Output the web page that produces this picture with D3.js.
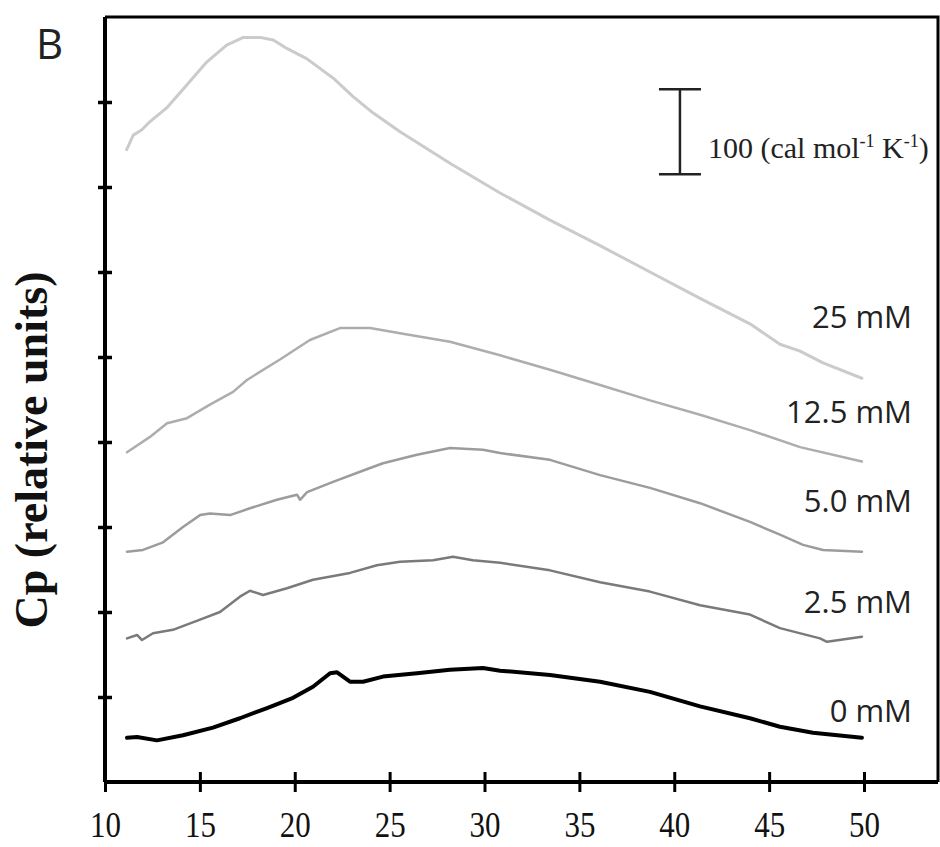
<!DOCTYPE html>
<html>
<head>
<meta charset="utf-8">
<script src="https://cdn.jsdelivr.net/npm/d3@7"></script>
<style>
  html, body { margin: 0; padding: 0; background: #fff; }
  svg { display: block; }
</style>
</head>
<body>
<div id="chart"></div>
<script>
// temperature (°C) vs Cp (cal mol-1 K-1, curves offset)
const t0 = [11.16, 11.69, 12.74, 14.11, 15.69, 17.11, 18.54, 19.91, 20.96, 21.86, 22.23, 22.91, 23.60, 24.65, 26.44, 28.18, 29.92, 30.82, 33.45, 36.09, 38.72, 41.36, 43.99, 45.57, 47.31, 49.89];
const cp0 = [52, 53, 49, 55, 64, 75, 87, 99, 112, 128, 129, 118, 118, 124, 128, 132, 134, 131, 126, 118, 106, 89, 75, 65, 58, 52];

const t2 = [11.16, 11.69, 11.95, 12.53, 13.58, 15.01, 16.06, 17.11, 17.64, 18.33, 19.59, 20.96, 22.91, 24.33, 25.55, 27.29, 28.34, 29.39, 30.82, 33.45, 36.09, 38.72, 41.36, 43.99, 45.57, 47.68, 48.05, 49.89];
const cp2 = [169, 173, 167, 175, 179, 191, 200, 218, 225, 220, 228, 238, 246, 255, 259, 261, 265, 261, 258, 249, 235, 224, 208, 197, 181, 169, 165, 171];

const t5 = [11.16, 12.00, 13.06, 14.11, 15.01, 15.53, 16.59, 17.64, 19.06, 20.12, 20.28, 20.65, 22.02, 23.44, 24.65, 26.44, 28.18, 29.92, 30.82, 33.45, 36.09, 38.72, 41.36, 43.99, 45.57, 46.79, 47.84, 49.89];
const cp5 = [271, 273, 282, 300, 314, 316, 314, 322, 332, 338, 332, 341, 353, 365, 375, 385, 393, 391, 387, 379, 361, 346, 328, 306, 291, 279, 273, 271];

const t12 = [11.16, 12.37, 13.27, 14.32, 15.53, 16.75, 17.48, 19.22, 20.80, 22.38, 23.97, 25.55, 28.18, 30.82, 33.45, 36.09, 38.72, 41.36, 43.99, 46.63, 49.89];
const cp12 = [388, 406, 422, 428, 444, 459, 473, 497, 520, 534, 534, 528, 518, 502, 485, 467, 449, 432, 414, 394, 377];

const t25 = [11.14, 11.49, 11.93, 12.37, 13.25, 14.31, 15.36, 16.41, 17.29, 18.17, 18.87, 19.58, 20.63, 22.03, 23.09, 24.14, 25.55, 28.18, 30.82, 33.45, 36.09, 38.72, 41.36, 43.99, 45.57, 46.63, 47.84, 49.89];
const cp25 = [744, 761, 767, 777, 793, 820, 847, 867, 876, 876, 873, 863, 851, 828, 806, 787, 765, 728, 693, 661, 631, 600, 569, 539, 515, 507, 493, 475];

const labels = ["0 mM", "2.5 mM", "5.0 mM", "12.5 mM", "25 mM"];
const xTicks = [10, 15, 20, 25, 30, 35, 40, 45, 50];
const yTicks = [100, 200, 300, 400, 500, 600, 700, 800];
const scaleBar = 100; // cal mol-1 K-1

const width = 940, height = 847;
const plotL = 105, plotR = 938, plotT = 17, plotB = 782;

const x = d3.scaleLinear([10, 50], [plotL, 864]);
const y = d3.scaleLinear([0, 900], [plotB, plotT]);

const series = [
  {label: labels[0], t: t0, cp: cp0, color: "#000", w: 4, ly: 722},
  {label: labels[1], t: t2, cp: cp2, color: "#7a7a7a", w: 2.5, ly: 613},
  {label: labels[2], t: t5, cp: cp5, color: "#9c9c9c", w: 2.5, ly: 512},
  {label: labels[3], t: t12, cp: cp12, color: "#adadad", w: 2.5, ly: 423},
  {label: labels[4], t: t25, cp: cp25, color: "#cbcbcb", w: 3, ly: 328}
];

const svg = d3.select("#chart").append("svg")
    .attr("width", width)
    .attr("height", height);

// curves
const line = d3.line()
    .x(d => x(d[0]))
    .y(d => y(d[1]));

svg.append("g")
    .attr("fill", "none")
    .attr("stroke-linejoin", "round")
    .attr("stroke-linecap", "round")
  .selectAll("path")
  .data(series)
  .join("path")
    .attr("stroke", d => d.color)
    .attr("stroke-width", d => d.w)
    .attr("d", d => line(d3.zip(d.t, d.cp)));

// frame (top and right)
svg.append("path")
    .attr("fill", "none")
    .attr("stroke", "#000")
    .attr("stroke-width", 3)
    .attr("d", `M${plotL},${plotT}H${plotR}V${plotB}`);

// x axis
const xAxis = svg.append("g")
    .attr("transform", `translate(0,${plotB})`)
    .call(d3.axisBottom(x).tickValues(xTicks).tickSize(10).tickFormat(d3.format("d")));
xAxis.select(".domain").remove();
xAxis.append("line")
    .attr("x1", plotL).attr("x2", plotR)
    .attr("stroke", "#000").attr("stroke-width", 4);
xAxis.selectAll(".tick line")
    .attr("y1", -10).attr("y2", 10)
    .attr("stroke-width", 3);
xAxis.selectAll(".tick text")
    .attr("y", 55).attr("dy", null)
    .attr("transform", "scale(0.86,1)")
    .attr("font-family", "'Liberation Serif', 'Times New Roman', serif")
    .attr("font-size", 36)
    .attr("fill", "#111");

// y axis, ticks only
const yAxis = svg.append("g")
    .attr("transform", `translate(${plotL},0)`)
    .call(d3.axisLeft(y).tickValues(yTicks).tickSize(7).tickFormat(""));
yAxis.select(".domain").remove();
yAxis.append("line")
    .attr("y1", plotT).attr("y2", plotB)
    .attr("stroke", "#000").attr("stroke-width", 4);
yAxis.selectAll(".tick line")
    .attr("x1", -7).attr("x2", 7)
    .attr("stroke-width", 3.5);

// series labels
svg.append("g")
    .attr("font-family", "'Open Sans', 'Liberation Sans', sans-serif")
    .attr("font-size", 31)
    .attr("fill", "#222")
    .attr("text-anchor", "end")
  .selectAll("text")
  .data(series)
  .join("text")
    .attr("x", 912)
    .attr("y", d => d.ly)
    .text(d => d.label);

// scale bar
const barX = x(40.3);
const barTop = y(815), barBot = y(815 - scaleBar);
const bar = svg.append("g").attr("stroke", "#222").attr("stroke-width", 2.5);
bar.append("line").attr("x1", barX).attr("x2", barX).attr("y1", barTop).attr("y2", barBot);
bar.append("line").attr("x1", barX - 21).attr("x2", barX + 21).attr("y1", barTop).attr("y2", barTop);
bar.append("line").attr("x1", barX - 21).attr("x2", barX + 21).attr("y1", barBot).attr("y2", barBot);

const barText = svg.append("text")
    .attr("x", barX + 28)
    .attr("y", 158)
    .attr("font-family", "'Liberation Serif', 'Times New Roman', serif")
    .attr("font-size", 30)
    .attr("fill", "#222");
barText.append("tspan").text(`${scaleBar} (cal mol`);
barText.append("tspan").attr("font-size", 18).attr("dy", -11).text("-1");
barText.append("tspan").attr("dy", 11).text(" K");
barText.append("tspan").attr("font-size", 18).attr("dy", -11).text("-1");
barText.append("tspan").attr("dy", 11).text(")");

// y axis title
svg.append("text")
    .attr("transform", "translate(47,450) rotate(-90)")
    .attr("text-anchor", "middle")
    .attr("font-family", "'Liberation Serif', 'Times New Roman', serif")
    .attr("font-weight", "bold")
    .attr("font-size", 46)
    .attr("fill", "#111")
    .text("Cp (relative units)");

// panel letter
svg.append("text")
    .attr("x", 36)
    .attr("y", 59)
    .attr("font-family", "'Open Sans', 'Liberation Sans', sans-serif")
    .attr("font-size", 42)
    .attr("fill", "#222")
    .text("B");
</script>
</body>
</html>
